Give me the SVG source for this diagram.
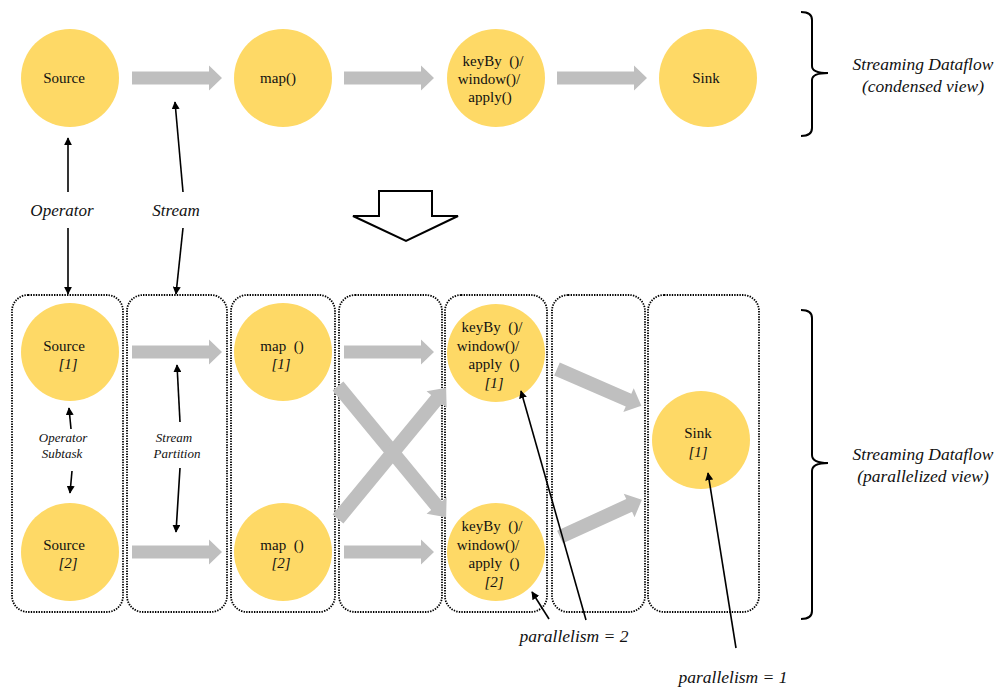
<svg xmlns="http://www.w3.org/2000/svg" width="998" height="688" viewBox="0 0 998 688">
<defs>
<style>
.node{fill:#FED966;}
.t{font-family:"Liberation Serif","Times New Roman",serif;font-size:15px;fill:#111;text-anchor:middle;white-space:pre;}
.i{font-style:italic;}
.lbl{font-family:"Liberation Serif","Times New Roman",serif;font-style:italic;fill:#111;text-anchor:middle;}
.g{fill:#BFBFBF;}
.box{fill:none;stroke:#000;stroke-width:1.8;stroke-dasharray:1.4 1.2;}
.ptr{stroke:#000;stroke-width:1.6;fill:none;marker-end:url(#ah);}
.brace{fill:none;stroke:#000;stroke-width:2;}
</style>
<marker id="ah" viewBox="0 0 10 10" refX="9" refY="5" markerWidth="8" markerHeight="8" markerUnits="userSpaceOnUse" orient="auto">
<path d="M0,0 L10,5 L0,10 z" fill="#000"/>
</marker>
</defs>
<rect width="998" height="688" fill="#fff"/>

<!-- dotted boxes -->
<g id="boxes">
<rect class="box" x="12" y="295" width="111" height="317" rx="16"/>
<rect class="box" x="127" y="295" width="100" height="317" rx="16"/>
<rect class="box" x="231" y="295" width="104" height="317" rx="16"/>
<rect class="box" x="339" y="295" width="103" height="317" rx="16"/>
<rect class="box" x="445" y="295" width="102" height="317" rx="16"/>
<rect class="box" x="552" y="295" width="93" height="317" rx="16"/>
<rect class="box" x="648" y="295" width="111" height="317" rx="16"/>
</g>

<!-- top condensed view nodes -->
<g id="src"><circle class="node" cx="70" cy="78" r="49"/><text class="t" x="64" y="83">Source</text></g>
<g id="map"><circle class="node" cx="283" cy="78" r="49"/><text class="t" x="278" y="83">map()</text></g>
<g id="keyby"><circle class="node" cx="496" cy="78" r="49"/>
<text class="t" x="493" y="66" xml:space="preserve">keyBy  ()/</text><text class="t" x="489" y="84">window()/</text><text class="t" x="490" y="102">apply()</text></g>
<g id="sink"><circle class="node" cx="708" cy="78" r="49"/><text class="t" x="706" y="83">Sink</text></g>

<!-- parallel view nodes -->
<g id="src1"><circle class="node" cx="70" cy="352" r="49"/><text class="t" x="64" y="351">Source</text><text class="t i" x="68" y="369">[1]</text></g>
<g id="src2"><circle class="node" cx="70" cy="552" r="49"/><text class="t" x="64" y="550">Source</text><text class="t i" x="68" y="568">[2]</text></g>
<g id="map1"><circle class="node" cx="283" cy="352" r="49"/><text class="t" x="282" y="351" xml:space="preserve">map  ()</text><text class="t i" x="281" y="369">[1]</text></g>
<g id="map2"><circle class="node" cx="283" cy="552" r="49"/><text class="t" x="282" y="550" xml:space="preserve">map  ()</text><text class="t i" x="281" y="568">[2]</text></g>
<g id="keyby1"><circle class="node" cx="496" cy="353" r="49"/>
<text class="t" x="492" y="332" xml:space="preserve">keyBy  ()/</text><text class="t" x="488" y="351">window()/</text><text class="t" x="494" y="369" xml:space="preserve">apply  ()</text><text class="t i" x="494" y="388">[1]</text></g>
<g id="keyby2"><circle class="node" cx="496" cy="552" r="49"/>
<text class="t" x="492" y="531" xml:space="preserve">keyBy  ()/</text><text class="t" x="488" y="550">window()/</text><text class="t" x="494" y="568" xml:space="preserve">apply  ()</text><text class="t i" x="494" y="587">[2]</text></g>
<g id="sink1"><circle class="node" cx="701" cy="440" r="49"/><text class="t" x="698" y="438">Sink</text><text class="t i" x="698" y="457">[1]</text></g>

<!-- connectors -->
<g id="connectors">
<polygon class="g" points="132,71.5 209,71.5 209,65.5 222,78 209,90.5 209,84.5 132,84.5"/>
<polygon class="g" points="344,71.5 421,71.5 421,65.5 434,78 421,90.5 421,84.5 344,84.5"/>
<polygon class="g" points="557,71.5 634,71.5 634,65.5 647,78 634,90.5 634,84.5 557,84.5"/>

<polygon class="g" points="132,345.5 209,345.5 209,339.5 222,352 209,364.5 209,358.5 132,358.5"/>
<polygon class="g" points="132,545.5 209,545.5 209,539.5 222,552 209,564.5 209,558.5 132,558.5"/>
<polygon class="g" points="344,345.5 421,345.5 421,339.5 434,352 421,364.5 421,358.5 344,358.5"/>
<polygon class="g" points="344,545.5 421,545.5 421,539.5 434,552 421,564.5 421,558.5 344,558.5"/>

<polygon class="g" transform="translate(338,386) rotate(50.5)" points="0,-7 155,-7 155,-13 170,0 155,13 155,7 0,7"/>
<polygon class="g" transform="translate(338,519) rotate(-50.5)" points="0,-7 155,-7 155,-13 170,0 155,13 155,7 0,7"/>
<polygon class="g" transform="translate(557,369) rotate(23.5)" points="0,-7 78,-7 78,-13 92,0 78,13 78,7 0,7"/>
<polygon class="g" transform="translate(560,537) rotate(-24.5)" points="0,-7 76,-7 76,-13 90,0 76,13 76,7 0,7"/>

<!-- annotation pointers -->
<line class="ptr" x1="68" y1="192" x2="68" y2="138"/>
<line class="ptr" x1="68" y1="228" x2="68" y2="294"/>
<line class="ptr" x1="183" y1="192" x2="175" y2="102"/>
<line class="ptr" x1="183" y1="228" x2="176" y2="294"/>
<line class="ptr" x1="71" y1="429" x2="69" y2="408"/>
<line class="ptr" x1="72" y1="471" x2="70" y2="493"/>
<line class="ptr" x1="180" y1="422" x2="177" y2="365"/>
<line class="ptr" x1="180" y1="468" x2="176" y2="532"/>
<line class="ptr" x1="549" y1="619" x2="532" y2="592"/>
<line class="ptr" x1="586" y1="620" x2="521" y2="391"/>
<line class="ptr" x1="736" y1="648" x2="708" y2="473"/>
</g>

<!-- hollow transition arrow -->
<polygon points="379,191 432,191 432,216 458,216 406,241 353,216 379,216 379,191" fill="#fff" stroke="#000" stroke-width="2"/>

<!-- braces -->
<path class="brace" d="M801,12 Q812,12 812,20 L812,66 Q812,73 828,73 Q812,73 812,80 L812,128 Q812,136 801,136"/>
<path class="brace" d="M801,310 Q812,310 812,318 L812,455 Q812,463 828,463 Q812,463 812,471 L812,611 Q812,619 801,619"/>

<!-- labels -->
<g id="labels">
<text class="lbl" x="62" y="216" font-size="17">Operator</text>
<text class="lbl" x="176" y="216" font-size="17">Stream</text>
<text class="lbl" x="63" y="442" font-size="13">Operator</text>
<text class="lbl" x="62" y="458" font-size="13">Subtask</text>
<text class="lbl" x="174" y="442" font-size="13">Stream</text>
<text class="lbl" x="177" y="458" font-size="13">Partition</text>
<text class="lbl" x="923" y="70" font-size="17.5">Streaming Dataflow</text>
<text class="lbl" x="923" y="92" font-size="17.5">(condensed view)</text>
<text class="lbl" x="923" y="460" font-size="17.5">Streaming Dataflow</text>
<text class="lbl" x="923" y="482" font-size="17.5">(parallelized view)</text>
<text class="lbl" x="574" y="642" font-size="17.5">parallelism = 2</text>
<text class="lbl" x="733" y="683" font-size="17.5">parallelism = 1</text>
</g>
</svg>
